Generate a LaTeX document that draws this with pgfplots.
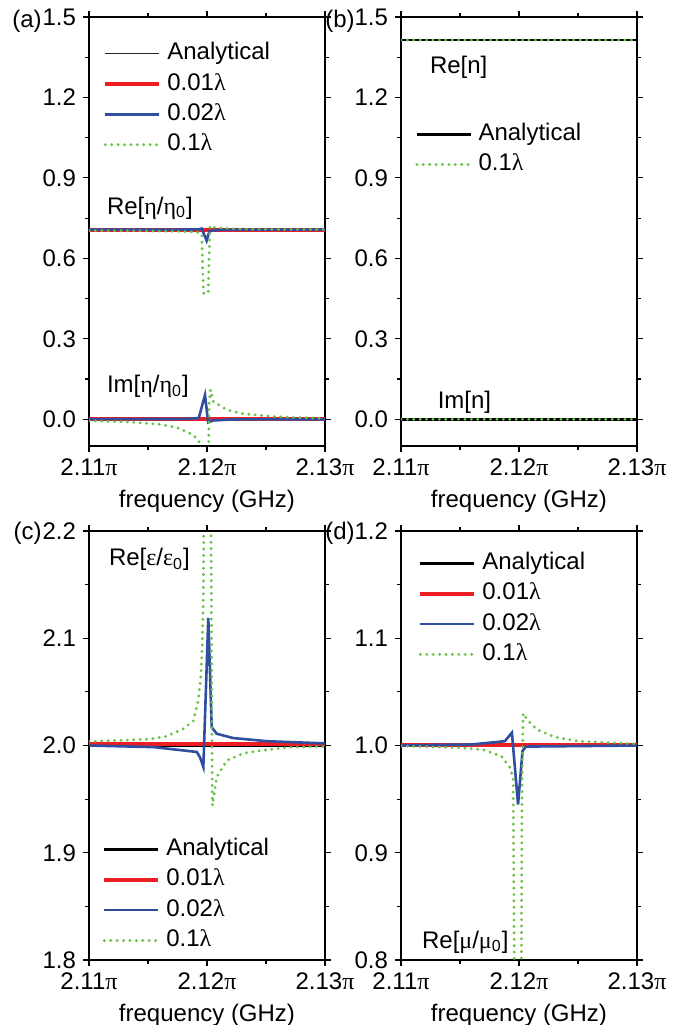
\documentclass[border=0pt]{standalone}
\usepackage{fontspec}
\setmainfont{Liberation Sans}
\newfontfamily\gr{Liberation Serif}
\usepackage{pgfplots}
\pgfplotsset{compat=1.18}

\definecolor{cred}{RGB}{236,30,36}
\definecolor{cblue}{RGB}{48,78,160}
\definecolor{cgreen}{RGB}{104,194,70}

\pgfplotsset{
  panel/.style={
    scale only axis, width=118pt, height=214.5pt,
    xmin=2.11, xmax=2.13,
    xtick={2.11,2.12,2.13},
    xticklabels={2.11{\gr π},2.12{\gr π},2.13{\gr π}},
    minor x tick num=1, minor y tick num=1,
    tick align=outside,
    major tick length=3pt, minor tick length=2pt,
    axis line style={line width=0.6pt},
    every tick/.style={line width=0.6pt, black},
    xlabel={frequency (GHz)},
    legend cell align=left,
    legend style={draw=none, fill=none, anchor=north west, inner sep=0pt,
      row sep=4pt, column sep=3pt,
      nodes={inner sep=0pt, text height=8.7pt, text depth=2.5pt}},
    legend image code/.code={\draw[##1] (0pt,0pt) -- (27pt,0pt);},
  },
  ana/.style={black, line width=1.4pt},
  anathin/.style={black!85, line width=0.6pt},
  r1/.style={cred, line width=2pt},
  b2/.style={cblue, line width=1.3pt},
  g3/.style={cgreen, line width=1.6pt, dash pattern=on 0pt off 3.2pt, line cap=round},
}

\begin{document}
\begin{tikzpicture}[font=\fontsize{12}{14}\selectfont]
\useasboundingbox (0pt,0pt) rectangle (341pt,-512.5pt);

% (a) impedance
\begin{axis}[panel, at={(44.5pt,-223pt)}, anchor=south west,
  ymin=-0.1, ymax=1.5,
  ytick={0,0.3,0.6,0.9,1.2,1.5},
  yticklabels={0.0,0.3,0.6,0.9,1.2,1.5},
  legend style={at={(0.059,0.942)}}]
\addplot[anathin] coordinates {(2.11,0.7071) (2.13,0.7071)};
\addlegendentry{Analytical}
\addplot[r1] coordinates {(2.11,0.7071) (2.13,0.7071)};
\addlegendentry{0.01{\gr λ}}
\addplot[b2] coordinates {(2.11,0.7071) (2.118,0.7073) (2.1193,0.708) (2.11955,0.711) (2.11997,0.666) (2.1202,0.700) (2.1205,0.705) (2.122,0.7068) (2.13,0.7071)};
\addlegendentry{0.02{\gr λ}}
\addplot[g3] coordinates {(2.11,0.7035) (2.114,0.7025) (2.117,0.701) (2.1185,0.699) (2.1194,0.697) (2.11955,0.69) (2.1197,0.47) (2.1201,0.47) (2.12025,0.722) (2.1206,0.716) (2.1215,0.712) (2.123,0.709) (2.126,0.708) (2.13,0.7075)};
\addlegendentry{0.1{\gr λ}}
\addplot[anathin, forget plot] coordinates {(2.11,0) (2.13,0)};
\addplot[r1, forget plot] coordinates {(2.11,0) (2.13,0)};
\addplot[b2, forget plot] coordinates {(2.11,0) (2.118,0.001) (2.1193,0.004) (2.11983,0.09) (2.1201,-0.012) (2.1205,-0.005) (2.122,-0.001) (2.13,0)};
\addplot[g3, forget plot] coordinates {(2.11,-0.006) (2.1132,-0.01) (2.116,-0.019) (2.11743,-0.031) (2.11828,-0.047) (2.11884,-0.059) (2.1194,-0.088) (2.11965,-0.3) (2.1201,-0.3) (2.12018,0.06) (2.1203,0.11) (2.12054,0.066) (2.12167,0.035) (2.12308,0.02) (2.1259,0.009) (2.13,0.003)};
\node[anchor=base west] at (axis cs:2.11093,0.764) {Re[{\gr η}/{\gr η}\textsubscript{0}]};
\node[anchor=base west] at (axis cs:2.11093,0.098) {Im[{\gr η}/{\gr η}\textsubscript{0}]};
\end{axis}

% (b) refractive index
\begin{axis}[panel, at={(200.5pt,-223pt)}, anchor=south west,
  ymin=-0.1, ymax=1.5,
  ytick={0,0.3,0.6,0.9,1.2,1.5},
  yticklabels={0.0,0.3,0.6,0.9,1.2,1.5},
  legend style={at={(0.059,0.754)}}]
\addplot[ana] coordinates {(2.11,1.4142) (2.13,1.4142)};
\addlegendentry{Analytical}
\addplot[g3] coordinates {(2.11,1.4142) (2.13,1.4142)};
\addlegendentry{0.1{\gr λ}}
\addplot[ana, forget plot] coordinates {(2.11,0) (2.13,0)};
\addplot[g3, forget plot] coordinates {(2.11,0) (2.13,0)};
\node[anchor=base west] at (axis cs:2.11186,1.291) {Re[n]};
\node[anchor=base west] at (axis cs:2.11252,0.041) {Im[n]};
\end{axis}

% (c) permittivity
\begin{axis}[panel, at={(44.5pt,-480pt)}, anchor=south west,
  ymin=1.8, ymax=2.2,
  ytick={1.8,1.9,2.0,2.1,2.2},
  yticklabels={1.8,1.9,2.0,2.1,2.2},
  legend style={at={(0.055,0.285)}}]
\addplot[ana] coordinates {(2.11,2.0) (2.13,2.0)};
\addlegendentry{Analytical}
\addplot[r1] coordinates {(2.11,2.0015) (2.13,2.0015)};
\addlegendentry{0.01{\gr λ}}
\addplot[b2] coordinates {(2.11,2.0) (2.1155,1.9985) (2.11913,1.994) (2.11941,1.989) (2.11969,1.980) (2.12011,2.119) (2.1204,2.017) (2.12082,2.011) (2.1222,2.007) (2.1251,2.004) (2.13,2.002)};
\addlegendentry{0.02{\gr λ}}
\addplot[g3] coordinates {(2.11,2.0037) (2.11517,2.006) (2.11658,2.0087) (2.11799,2.0155) (2.11884,2.023) (2.11926,2.042) (2.11947,2.0636) (2.1196,2.095) (2.11969,2.141) (2.1198,2.3) (2.1203,2.3) (2.12045,1.944) (2.12082,1.9705) (2.12167,1.986) (2.12308,1.9928) (2.12506,1.996) (2.12703,1.9984) (2.13,1.999)};
\addlegendentry{0.1{\gr λ}}
\node[anchor=base west] at (axis cs:2.1111,2.1674) {Re[{\gr ε}/{\gr ε}\textsubscript{0}]};
\end{axis}

% (d) permeability
\begin{axis}[panel, at={(200.5pt,-480pt)}, anchor=south west,
  ymin=0.8, ymax=1.2,
  ytick={0.8,0.9,1.0,1.1,1.2},
  yticklabels={0.8,0.9,1.0,1.1,1.2},
  legend style={at={(0.072,0.952)}}]
\addplot[ana] coordinates {(2.11,1.0) (2.13,1.0)};
\addlegendentry{Analytical}
\addplot[r1] coordinates {(2.11,1.0008) (2.13,1.0008)};
\addlegendentry{0.01{\gr λ}}
\addplot[b2] coordinates {(2.11,1.0) (2.116,1.001) (2.1188,1.004) (2.1194,1.012) (2.11992,0.945) (2.1203,0.995) (2.1206,0.999) (2.13,1.0)};
\addlegendentry{0.02{\gr λ}}
\addplot[g3] coordinates {(2.11,0.9995) (2.115,0.998) (2.117,0.996) (2.1185,0.99) (2.1192,0.98) (2.1195,0.97) (2.11966,0.7) (2.12017,0.7) (2.12025,0.95) (2.12035,1.03) (2.1207,1.024) (2.1215,1.015) (2.123,1.008) (2.125,1.004) (2.13,1.0015)};
\addlegendentry{0.1{\gr λ}}
\node[anchor=base west] at (axis cs:2.11119,0.8112) {Re[{\gr μ}/{\gr μ}\textsubscript{0}]};
\end{axis}

\node[anchor=base east, inner sep=0pt] at (21pt,-13.5pt) {(a)};
\node[anchor=base east, inner sep=0pt] at (177.5pt,-13.5pt) {(b)};
\node[anchor=base east, inner sep=0pt] at (21pt,-269.5pt) {(c)};
\node[anchor=base east, inner sep=0pt] at (177.5pt,-269.5pt) {(d)};
\end{tikzpicture}
\end{document}
